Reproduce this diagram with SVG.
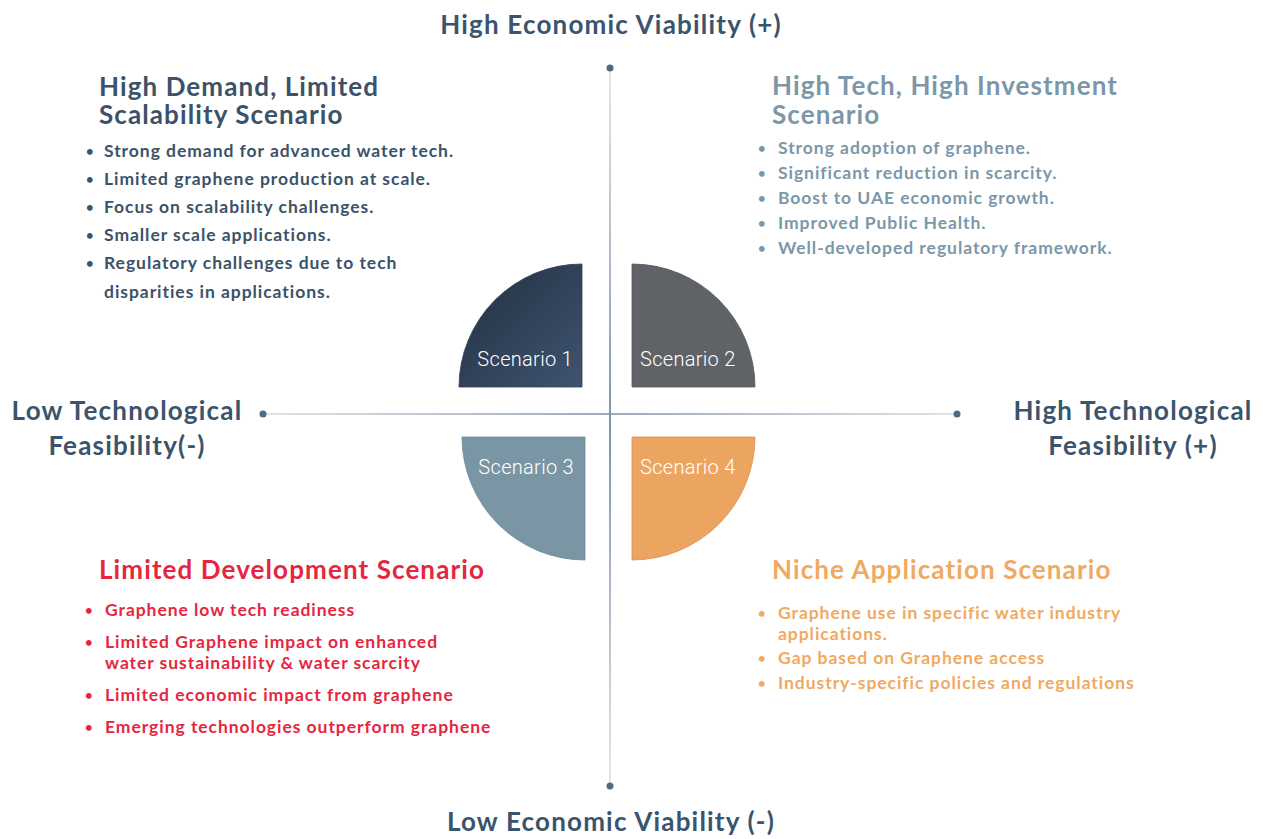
<svg xmlns="http://www.w3.org/2000/svg" width="1266" height="839" viewBox="0 0 1266 839">
<style>
.ax{font-family:Lato,"Liberation Sans",sans-serif;font-weight:700;font-size:26px;letter-spacing:1.2px;fill:#3a546d;text-anchor:middle}
.hd{font-family:Lato,"Liberation Sans",sans-serif;font-weight:700;font-size:26px;letter-spacing:1.1px}
.bl{font-family:Lato,"Liberation Sans",sans-serif;font-weight:700;font-size:17.5px;letter-spacing:0.95px}
.bu{font-size:13px}
.sc{font-family:Roboto,"Liberation Sans",sans-serif;font-weight:300;font-size:20px;letter-spacing:0.3px;fill:#ffffff}
.dot{fill:#4f6a85}
</style>
<defs>
<linearGradient id="gv" x1="0" y1="68" x2="0" y2="786" gradientUnits="userSpaceOnUse">
<stop offset="0" stop-color="#d2dbe3"/><stop offset="0.5" stop-color="#3e5876"/><stop offset="1" stop-color="#d2dbe3"/>
</linearGradient>
<linearGradient id="gh" x1="263" y1="0" x2="957" y2="0" gradientUnits="userSpaceOnUse">
<stop offset="0" stop-color="#d2dbe3"/><stop offset="0.5" stop-color="#7d8ea3"/><stop offset="1" stop-color="#d2dbe3"/>
</linearGradient>
<linearGradient id="g1" x1="0" y1="0" x2="1" y2="1">
<stop offset="0" stop-color="#222f40"/><stop offset="1" stop-color="#3f5470"/>
</linearGradient>
</defs>

<g id="axes">
<line x1="610" y1="68" x2="610" y2="786" stroke="url(#gv)" stroke-width="1.3"/>
<line x1="263" y1="414" x2="957" y2="414" stroke="url(#gh)" stroke-width="1.3"/>
<circle class="dot" cx="610" cy="68" r="3.5"/>
<circle class="dot" cx="610" cy="786" r="3.5"/>
<circle class="dot" cx="263" cy="414" r="3.5"/>
<circle class="dot" cx="957" cy="414" r="3.5"/>
</g>

<g id="axis-labels">
<text class="ax" x="611" y="34">High Economic Viability (+)</text>
<text class="ax" x="611" y="831">Low Economic Viability (-)</text>
<text class="ax" x="127" y="420">Low Technological</text>
<text class="ax" x="127" y="455">Feasibility(-)</text>
<text class="ax" x="1133" y="420">High Technological</text>
<text class="ax" x="1133" y="455">Feasibility (+)</text>
</g>

<g id="scenario1">
<path d="M582 387 L459 387 A123 123 0 0 1 582 264 Z" fill="url(#g1)" stroke="#2f3f52" stroke-width="0.8"/>
<text class="sc" x="573" y="366" text-anchor="end">Scenario 1</text>
</g>
<g id="scenario2">
<path d="M632 387 L632 264 A123 123 0 0 1 755 387 Z" fill="#5f6367" stroke="#55595d" stroke-width="0.8"/>
<text class="sc" x="640" y="366">Scenario 2</text>
</g>
<g id="scenario3">
<path d="M585 437 L585 560 A123 123 0 0 1 462 437 Z" fill="#7a95a4" stroke="#6f8a99" stroke-width="0.8"/>
<text class="sc" x="574" y="474" text-anchor="end">Scenario 3</text>
</g>
<g id="scenario4">
<path d="M632 437 L755 437 A123 123 0 0 1 632 560 Z" fill="#eca561" stroke="#d9924f" stroke-width="0.8"/>
<text class="sc" x="640" y="474">Scenario 4</text>
</g>

<g id="q1-text" fill="#3b5269">
<text class="hd" x="99" y="96">High Demand, Limited</text>
<text class="hd" x="99" y="124">Scalability Scenario</text>
<g class="bl">
<text class="bu" x="86" y="156">•</text><text x="104" y="157">Strong demand for advanced water tech.</text>
<text class="bu" x="86" y="184">•</text><text x="104" y="185">Limited graphene production at scale.</text>
<text class="bu" x="86" y="212">•</text><text x="104" y="213">Focus on scalability challenges.</text>
<text class="bu" x="86" y="240">•</text><text x="104" y="241">Smaller scale applications.</text>
<text class="bu" x="86" y="268">•</text><text x="104" y="269">Regulatory challenges due to tech</text>
<text x="104" y="298">disparities in applications.</text>
</g>
</g>

<g id="q2-text" fill="#7b97a8">
<text class="hd" x="772" y="95">High Tech, High Investment</text>
<text class="hd" x="772" y="124">Scenario</text>
<g class="bl">
<text class="bu" x="758" y="153">•</text><text x="778" y="154">Strong adoption of graphene.</text>
<text class="bu" x="758" y="178">•</text><text x="778" y="179">Significant reduction in scarcity.</text>
<text class="bu" x="758" y="203">•</text><text x="778" y="204">Boost to UAE economic growth.</text>
<text class="bu" x="758" y="228">•</text><text x="778" y="229">Improved Public Health.</text>
<text class="bu" x="758" y="253">•</text><text x="778" y="254">Well-developed regulatory framework.</text>
</g>
</g>

<g id="q3-text" fill="#e5263f">
<text class="hd" x="99" y="579">Limited Development Scenario</text>
<g class="bl">
<text class="bu" x="85" y="615">•</text><text x="105" y="616">Graphene low tech readiness</text>
<text class="bu" x="85" y="647">•</text><text x="105" y="648">Limited Graphene impact on enhanced</text>
<text x="105" y="669">water sustainability &amp; water scarcity</text>
<text class="bu" x="85" y="700">•</text><text x="105" y="701">Limited economic impact from graphene</text>
<text class="bu" x="85" y="732">•</text><text x="105" y="733">Emerging technologies outperform graphene</text>
</g>
</g>

<g id="q4-text" fill="#f0a963">
<text class="hd" x="772" y="579">Niche Application Scenario</text>
<g class="bl">
<text class="bu" x="758" y="618">•</text><text x="778" y="619">Graphene use in specific water industry</text>
<text x="778" y="640">applications.</text>
<text class="bu" x="758" y="663">•</text><text x="778" y="664">Gap based on Graphene access</text>
<text class="bu" x="758" y="688">•</text><text x="778" y="689">Industry-specific policies and regulations</text>
</g>
</g>
</svg>
